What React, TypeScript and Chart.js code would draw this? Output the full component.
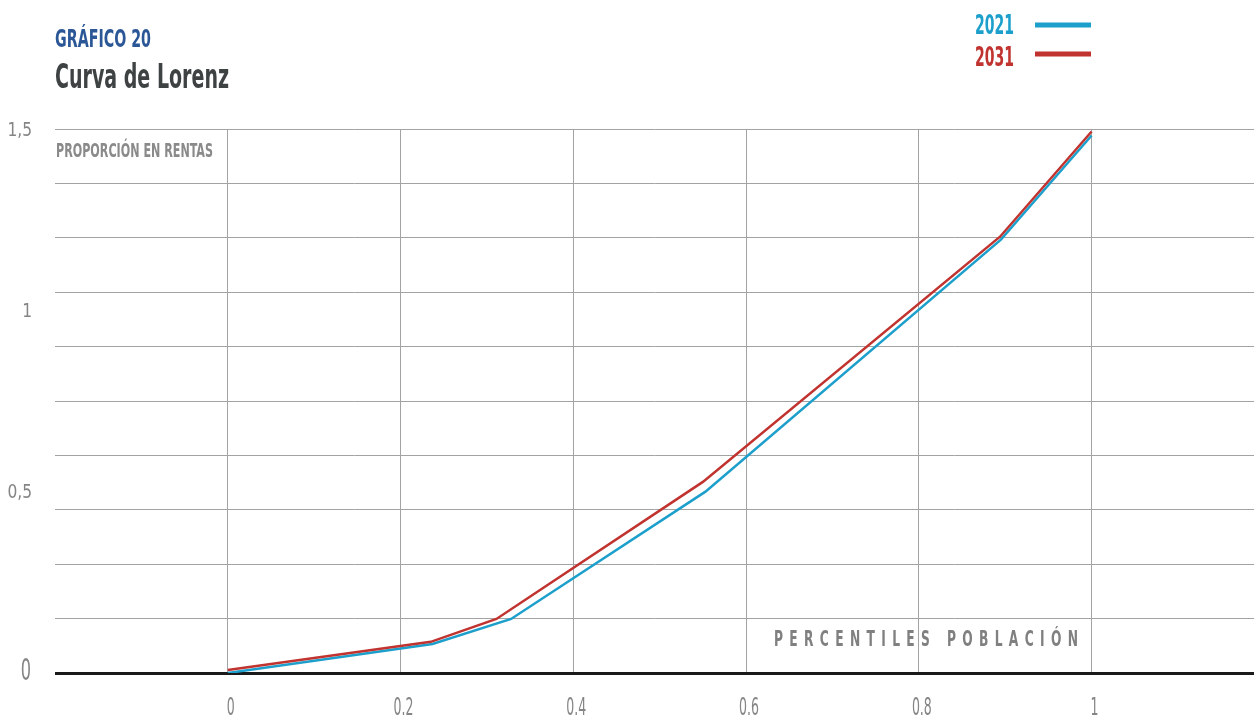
import React, { useEffect, useRef } from "react";
import { Chart, registerables } from "chart.js";

Chart.register(...registerables);

// ---- data ----
const x2021 = [0, 0.237, 0.328, 0.553, 0.895, 1];
const y2021 = [0, 0.08, 0.149, 0.5, 1.195, 1.482];
const x2031 = [0, 0.235, 0.311, 0.55, 0.894, 1];
const y2031 = [0.008, 0.086, 0.149, 0.527, 1.203, 1.493];

const seriesNames = ["2021", "2031"];
const xTickValues = [0, 0.2, 0.4, 0.6, 0.8, 1];
const xTickLabels = ["0", "0.2", "0.4", "0.6", "0.8", "1"];
const yGridValues = [0, 0.15, 0.3, 0.45, 0.6, 0.75, 0.9, 1.05, 1.2, 1.35, 1.5];
const yLabelValues = [0, 0.5, 1, 1.5];
const yLabelTexts = ["0", "0,5", "1", "1,5"];

const FONT = '"DejaVu Sans Condensed", "Liberation Sans Narrow", "Roboto", sans-serif';
const BLUE = "#1d9fcc";
const RED = "#c0332f";
const GRID = "#a3a3a3";
const LABEL = "#858585";

const near = (a: number, b: number) => Math.abs(a - b) < 1e-6;

function drawScaled(
  ctx: CanvasRenderingContext2D,
  text: string,
  x: number,
  y: number,
  font: string,
  color: string,
  sx: number,
  align: CanvasTextAlign = "left",
  baseline: CanvasTextBaseline = "alphabetic"
) {
  ctx.save();
  ctx.font = font;
  ctx.fillStyle = color;
  ctx.textAlign = align;
  ctx.textBaseline = baseline;
  ctx.translate(x, y);
  ctx.scale(sx, 1);
  ctx.fillText(text, 0, 0);
  ctx.restore();
}

const textPlugin = {
  id: "texts",
  afterDraw(chart: any) {
    const ctx = chart.ctx as CanvasRenderingContext2D;
    ctx.save();
    ctx.textBaseline = "alphabetic";
    ctx.textAlign = "left";

    ctx.fillStyle = "#2b5797";
    ctx.font = `bold 25px ${FONT}`;
    ctx.fillText("GRÁFICO 20", 55, 47, 96);

    ctx.fillStyle = "#3e4243";
    ctx.font = `bold 34px ${FONT}`;
    ctx.fillText("Curva de Lorenz", 55, 88, 174);

    ctx.fillStyle = "#8a8a8a";
    ctx.font = `bold 19px ${FONT}`;
    ctx.fillText("PROPORCIÓN EN RENTAS", 56, 157, 157);

    // legend
    ctx.font = `bold 26px ${FONT}`;
    ctx.fillStyle = BLUE;
    ctx.fillText(seriesNames[0], 975, 34, 39);
    ctx.fillStyle = RED;
    ctx.fillText(seriesNames[1], 975, 66, 39);
    ctx.lineWidth = 5;
    ctx.strokeStyle = BLUE;
    ctx.beginPath();
    ctx.moveTo(1035, 25);
    ctx.lineTo(1091, 25);
    ctx.stroke();
    ctx.strokeStyle = RED;
    ctx.beginPath();
    ctx.moveTo(1035, 54);
    ctx.lineTo(1091, 54);
    ctx.stroke();

    // x caption with wide letter spacing
    const caption = "PERCENTILES POBLACIÓN";
    const capFont = `bold 22px ${FONT}`;
    const capScale = 0.62;
    ctx.font = capFont;
    const chars = caption.split("");
    const widths = chars.map((c) => ctx.measureText(c).width * capScale);
    const total = widths.reduce((a, b) => a + b, 0);
    const startX = 774;
    const endX = 1078;
    const gap = (endX - startX - total) / (chars.length - 1);
    let cx = startX;
    chars.forEach((c, i) => {
      drawScaled(ctx, c, cx, 646, capFont, "#808080", capScale);
      cx += widths[i] + gap;
    });

    // axis tick labels, positioned through the chart scales
    const xs = chart.scales.x;
    const ys = chart.scales.y;
    xTickValues.forEach((v, i) => {
      const px = xs.getPixelForValue(v);
      drawScaled(ctx, xTickLabels[i], px + 3, 715, `24px ${FONT}`, LABEL, 0.58, "center");
    });
    yLabelValues.forEach((v, i) => {
      const py = ys.getPixelForValue(v);
      if (near(v, 0)) {
        drawScaled(ctx, yLabelTexts[i], 31, py - 1.5, `31px ${FONT}`, LABEL, 0.58, "right", "middle");
      } else {
        drawScaled(ctx, yLabelTexts[i], 32, py + 1.5, `20px ${FONT}`, LABEL, 0.86, "right", "middle");
      }
    });
    ctx.restore();
  },
};

export default function App() {
  const ref = useRef<HTMLCanvasElement | null>(null);

  useEffect(() => {
    if (!ref.current) return;
    const chart = new Chart(ref.current, {
      type: "line",
      data: {
        datasets: [
          {
            label: seriesNames[0],
            data: x2021.map((x, i) => ({ x, y: y2021[i] })),
            borderColor: BLUE,
            backgroundColor: BLUE,
            borderWidth: 2.5,
            pointRadius: 0,
            tension: 0,
            order: 1,
          },
          {
            label: seriesNames[1],
            data: x2031.map((x, i) => ({ x, y: y2031[i] })),
            borderColor: RED,
            backgroundColor: RED,
            borderWidth: 2.5,
            pointRadius: 0,
            tension: 0,
            order: 0,
          },
        ],
      },
      options: {
        animation: false,
        responsive: false,
        devicePixelRatio: 1,
        layout: { padding: { left: 0, right: 0, top: 129, bottom: 0 } },
        plugins: {
          legend: { display: false },
          tooltip: { enabled: false },
          title: { display: false },
        },
        scales: {
          x: {
            type: "linear",
            min: -0.2,
            max: 1.188,
            afterBuildTicks: (scale: any) => {
              scale.ticks = xTickValues.map((v) => ({ value: v }));
            },
            afterFit: (scale: any) => {
              scale.height = 42;
            },
            border: { display: false },
            grid: {
              color: GRID,
              lineWidth: 1,
              drawTicks: false,
            },
            ticks: { display: false },
          },
          y: {
            type: "linear",
            min: 0,
            max: 1.5,
            afterBuildTicks: (scale: any) => {
              scale.ticks = yGridValues.map((v) => ({ value: v }));
            },
            afterFit: (scale: any) => {
              scale.width = 55;
            },
            border: { display: false },
            grid: {
              drawTicks: false,
              color: (c: any) => {
                const v = c.tick ? c.tick.value : 0;
                return near(v, 0) ? "#1a1a1a" : GRID;
              },
              lineWidth: (c: any) => {
                const v = c.tick ? c.tick.value : 0;
                return near(v, 0) ? 3 : 1;
              },
            },
            ticks: { display: false },
          },
        },
      },
      plugins: [textPlugin],
    });
    return () => chart.destroy();
  }, []);

  return (
    <div
      style={{
        position: "absolute",
        left: 0,
        top: 0,
        width: 1254,
        height: 715,
        overflow: "hidden",
        background: "#ffffff",
      }}
    >
      <canvas ref={ref} width={1254} height={715} style={{ display: "block" }} />
    </div>
  );
}
